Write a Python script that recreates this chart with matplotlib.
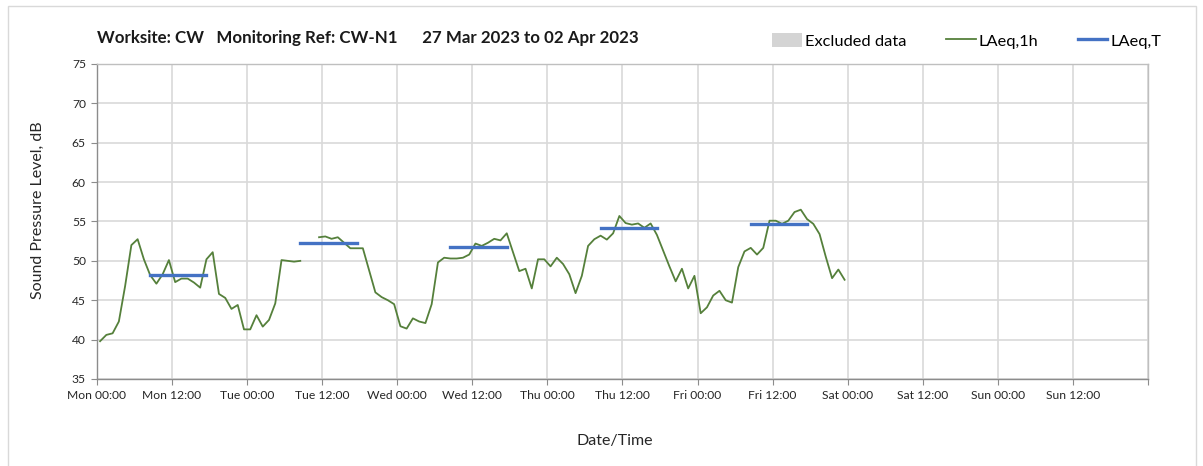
import numpy as np
import pandas as pd
import matplotlib
matplotlib.use("Agg")
import matplotlib.pyplot as plt
from matplotlib.patches import Patch, Rectangle
from matplotlib.lines import Line2D

plt.rcParams['font.family'] = ['Lato', 'DejaVu Sans']

# -----------------------------
# data
# -----------------------------
title = "Worksite: CW   Monitoring Ref: CW-N1      27 Mar 2023 to 02 Apr 2023"

# hourly LAeq,1h, Mon 00:30 ... Fri 23:30
laeq_1h = [
    # Mon
    39.8, 40.6, 40.8, 42.3, 46.8, 52.0, 52.75, 50.2, 48.2, 47.1, 48.3, 50.1,
    47.3, 47.75, 47.75, 47.25, 46.6, 50.2, 51.1, 45.8, 45.3, 43.9, 44.4, 41.3,
    # Tue
    41.3, 43.1, 41.65, 42.5, 44.6, 50.1, 50.0, 49.9, 50.0, np.nan, np.nan, 53.0,
    53.1, 52.8, 53.0, 52.3, 51.6, 51.6, 51.6, 48.8, 46.0, 45.4, 45.0, 44.5,
    # Wed
    41.7, 41.4, 42.7, 42.3, 42.1, 44.5, 49.8, 50.4, 50.3, 50.3, 50.4, 50.8,
    52.2, 51.9, 52.3, 52.8, 52.6, 53.5, 51.1, 48.7, 49.0, 46.5, 50.2, 50.2,
    # Thu
    49.3, 50.4, 49.6, 48.3, 45.9, 48.1, 51.9, 52.75, 53.2, 52.7, 53.5, 55.7,
    54.8, 54.6, 54.75, 54.2, 54.75, 53.3, 51.3, 49.3, 47.4, 49.0, 46.5, 48.1,
    # Fri
    43.35, 44.1, 45.6, 46.2, 45.0, 44.7, 49.2, 51.2, 51.65, 50.8, 51.65, 55.1,
    55.1, 54.7, 55.1, 56.2, 56.5, 55.3, 54.7, 53.4, 50.5, 47.8, 48.9, 47.6,
]

# daytime LAeq,T (08:30 - 17:30) for each weekday
laeq_t_days = ["2023-03-27", "2023-03-28", "2023-03-29", "2023-03-30", "2023-03-31"]
laeq_t_vals = [48.2, 52.25, 51.8, 54.2, 54.65]

tick_labels = ["Mon 00:00", "Mon 12:00", "Tue 00:00", "Tue 12:00", "Wed 00:00",
               "Wed 12:00", "Thu 00:00", "Thu 12:00", "Fri 00:00", "Fri 12:00",
               "Sat 00:00", "Sat 12:00", "Sun 00:00", "Sun 12:00", ""]

times = pd.date_range("2023-03-27 00:30", periods=len(laeq_1h), freq="h")

green = "#55803b"
blue = "#4472c4"

fig = plt.figure(figsize=(12.03, 4.66), dpi=100)
ax = fig.add_axes([0.0806, 0.1867, 0.8737, 0.6760])

ax.plot(times, laeq_1h, color=green, lw=1.3, zorder=3)

for day, val in zip(laeq_t_days, laeq_t_vals):
    t = pd.date_range(day + " 08:30", periods=10, freq="h")
    ax.plot(t, [val] * len(t), color=blue, lw=2.4, zorder=4)

# axes
ax.set_xlim(pd.Timestamp("2023-03-27"), pd.Timestamp("2023-04-03"))
ax.set_xticks(pd.date_range("2023-03-27", "2023-04-03", freq="12h"))
ax.set_xticklabels(tick_labels)
ax.set_ylim(35, 75)
ax.set_yticks(range(35, 80, 5))

ax.grid(color="#d9d9d9", lw=1.2, zorder=0)
for s in ax.spines.values():
    s.set_color("#bfbfbf")
    s.set_linewidth(1.0)
ax.spines["left"].set_color("#8c8c8c")
ax.spines["bottom"].set_color("#8c8c8c")
ax.tick_params(axis="both", length=4, color="#8c8c8c", labelsize=8.7,
               labelcolor="#262626", pad=4)

ax.set_ylabel("Sound Pressure Level, dB", fontsize=11.5, color="#262626")
ax.yaxis.set_label_coords(-0.05, 0.535)
ax.set_xlabel("Date/Time", fontsize=11.5, color="#262626")
ax.xaxis.set_label_coords(0.493, -0.175)

fig.text(97 / 1203, 1 - 38 / 466, title, fontsize=12.2, weight="bold",
         va="center", color="#1a1a1a")

handles = [
    Patch(facecolor="#d4d4d4", edgecolor="none"),
    Line2D([], [], color=green, lw=1.3),
    Line2D([], [], color=blue, lw=2.4),
]
fig.legend(handles, ["Excluded data", "LAeq,1h", "LAeq,T"],
           loc="center", bbox_to_anchor=(967 / 1203, 1 - 41 / 466), ncol=3,
           frameon=False, fontsize=11.8, handlelength=1.8, handleheight=0.9,
           handletextpad=0.2, columnspacing=2.4)

# outer chart frame
fig.patches.append(Rectangle((8 / 1203, -0.01), 0.9875, 0.997,
                             transform=fig.transFigure, fill=False,
                             edgecolor="#d9d9d9", lw=1))

fig.savefig("out.png", dpi=100)
